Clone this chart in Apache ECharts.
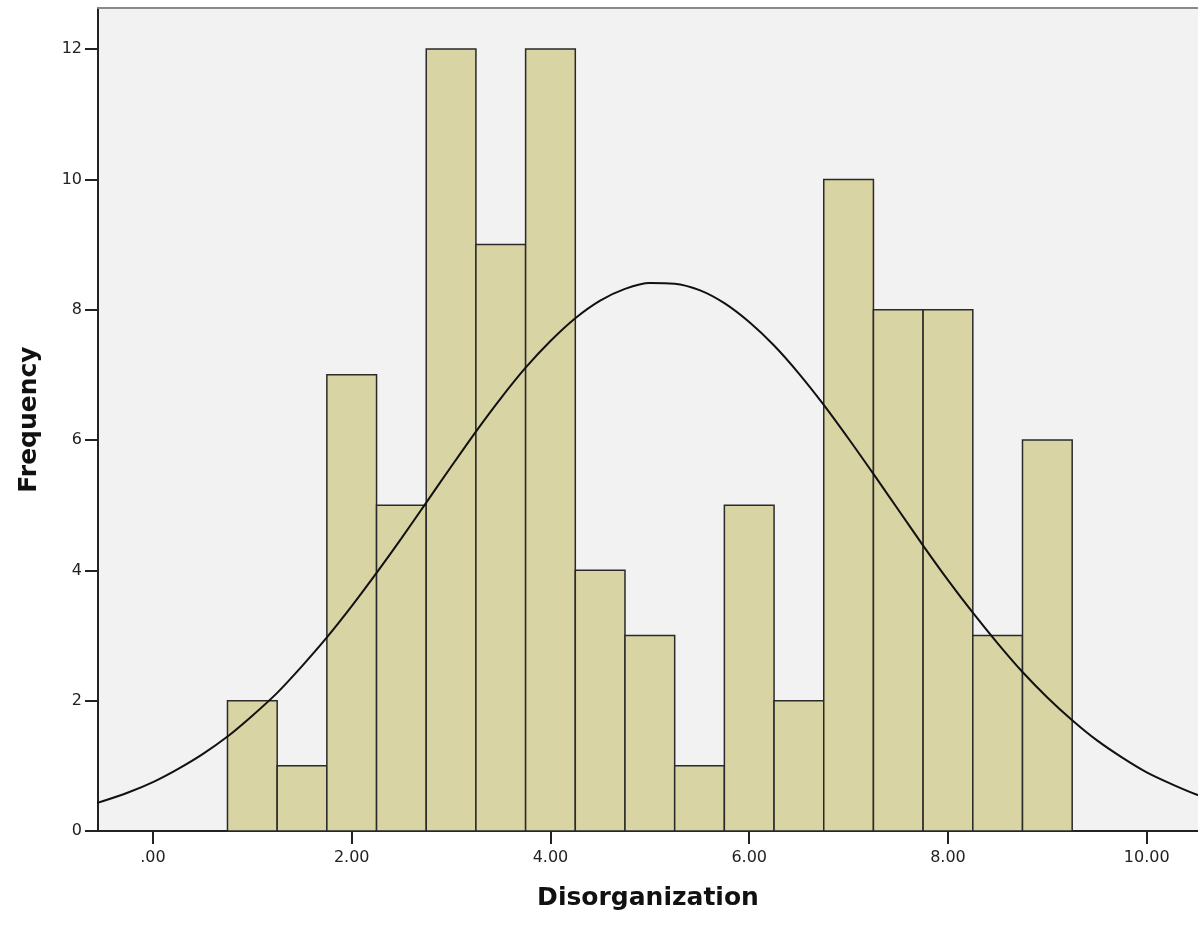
<!DOCTYPE html>
<html>
<head>
<meta charset="utf-8">
<script src="https://cdn.jsdelivr.net/npm/echarts@6/dist/echarts.min.js"></script>
<style>
  html, body { margin: 0; padding: 0; background: #fff; }
  #main { width: 1198px; height: 926px; }
</style>
</head>
<body>
<div id="main"></div>
<script>
// histogram bins (centre of each bin) and counts
var binCenters = [1.0, 1.5, 2.0, 2.5, 3.0, 3.5, 4.0, 4.5, 5.0, 5.5, 6.0, 6.5, 7.0, 7.5, 8.0, 8.5, 9.0];
var counts = [2, 1, 7, 5, 12, 9, 12, 4, 3, 1, 5, 2, 10, 8, 8, 3, 6];
var binWidth = 0.5;

// normal curve
var curveX = [-1.0, -0.75, -0.5, -0.25, 0.0, 0.25, 0.5, 0.75, 1.0, 1.25, 1.5, 1.75, 2.0, 2.25, 2.5, 2.75,
  3.0, 3.25, 3.5, 3.75, 4.0, 4.25, 4.5, 4.75, 5.0, 5.25, 5.5, 5.75, 6.0, 6.25, 6.5, 6.75,
  7.0, 7.25, 7.5, 7.75, 8.0, 8.25, 8.5, 8.75, 9.0, 9.25, 9.5, 9.75, 10.0, 10.25, 10.5, 10.75, 11.0];
var curveY = [0.27, 0.35, 0.46, 0.59, 0.75, 0.95, 1.18, 1.45, 1.77, 2.12, 2.53, 2.97, 3.45, 3.96, 4.49, 5.04,
  5.59, 6.13, 6.64, 7.11, 7.52, 7.87, 8.14, 8.32, 8.41, 8.40, 8.30, 8.10, 7.81, 7.45, 7.02, 6.54,
  6.02, 5.48, 4.93, 4.38, 3.85, 3.35, 2.88, 2.44, 2.05, 1.70, 1.39, 1.13, 0.90, 0.72, 0.56, 0.43, 0.33];

// tick labels
var xTicks = [0, 2, 4, 6, 8, 10];
var yTicks = [0, 2, 4, 6, 8, 10, 12];

var chart = echarts.init(document.getElementById('main'));

var barData = binCenters.map(function (c, i) {
  return [c - binWidth / 2, c + binWidth / 2, counts[i]];
});
var lineData = curveX.map(function (x, i) {
  return [x, curveY[i]];
});

var font = 'DejaVu Sans, Verdana, sans-serif';
var xMin = -0.553, xMax = 10.516;

chart.setOption({
  animation: false,
  grid: {
    left: 98,
    top: 8,
    right: 0,
    bottom: 95,
    show: true,
    backgroundColor: '#f2f2f2',
    borderWidth: 0
  },
  xAxis: [{
    type: 'value',
    min: xMin,
    max: xMax,
    name: 'Disorganization',
    nameLocation: 'middle',
    nameGap: 55,
    nameTextStyle: { fontFamily: font, fontSize: 25, fontWeight: 'bold', color: '#111' },
    axisLine: { show: true, onZero: false, lineStyle: { color: '#222', width: 2 } },
    axisTick: { show: true, customValues: xTicks, length: 13, lineStyle: { color: '#222', width: 2 } },
    axisLabel: {
      customValues: xTicks,
      margin: 19,
      fontFamily: font,
      fontSize: 16,
      color: '#222',
      formatter: function (v) { return v === 0 ? '.00' : v.toFixed(2); }
    },
    splitLine: { show: false }
  }, {
    // top frame line
    type: 'value',
    position: 'top',
    min: xMin,
    max: xMax,
    axisLine: { show: true, onZero: false, lineStyle: { color: '#8a8a8a', width: 2 } },
    axisTick: { show: false },
    axisLabel: { show: false },
    splitLine: { show: false }
  }],
  yAxis: {
    type: 'value',
    min: 0,
    max: 12.63,
    name: 'Frequency',
    nameLocation: 'middle',
    nameGap: 56,
    nameTextStyle: { fontFamily: font, fontSize: 25, fontWeight: 'bold', color: '#111' },
    axisLine: { show: true, onZero: false, lineStyle: { color: '#222', width: 2 } },
    axisTick: { show: true, customValues: yTicks, length: 13, lineStyle: { color: '#222', width: 2 } },
    axisLabel: {
      customValues: yTicks,
      margin: 16,
      fontFamily: font,
      fontSize: 16,
      color: '#222'
    },
    splitLine: { show: false }
  },
  series: [
    {
      type: 'custom',
      data: barData,
      encode: { x: [0, 1], y: 2 },
      renderItem: function (params, api) {
        var p0 = api.coord([api.value(0), api.value(2)]);
        var p1 = api.coord([api.value(1), 0]);
        return {
          type: 'rect',
          shape: { x: p0[0], y: p0[1], width: p1[0] - p0[0], height: p1[1] - p0[1] },
          style: { fill: '#d9d4a4', stroke: '#2a2a2a', lineWidth: 1.5 }
        };
      },
      z: 2
    },
    {
      type: 'line',
      data: lineData,
      smooth: 0.3,
      showSymbol: false,
      clip: true,
      lineStyle: { color: '#111', width: 2 },
      z: 3
    }
  ]
});
</script>
</body>
</html>
